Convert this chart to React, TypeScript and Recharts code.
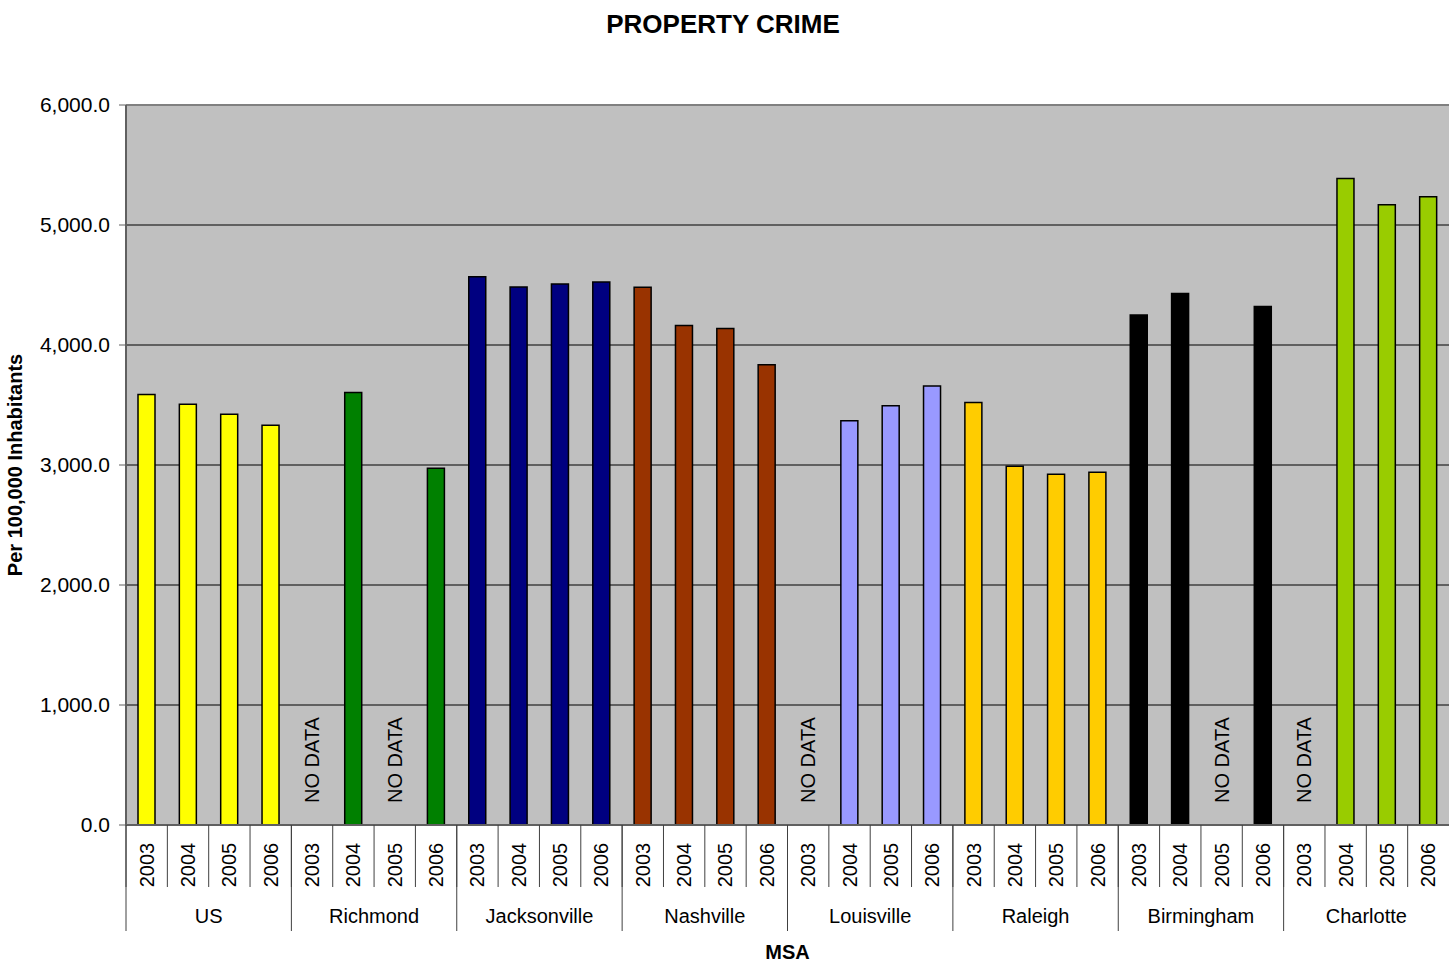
import React from "react";
import { BarChart, Bar, XAxis, YAxis, CartesianGrid, Cell, Label, ReferenceLine } from "recharts";

const years = ["2003", "2004", "2005", "2006"];
const msas = ["US", "Richmond", "Jacksonville", "Nashville", "Louisville", "Raleigh", "Birmingham", "Charlotte"];
const msaColors = ["#FFFF00", "#008000", "#000080", "#993300", "#9999FF", "#FFCC00", "#000000", "#99CC00"];

// null = no data reported for that year
const usValues = [3587, 3506, 3423, 3332];
const richmondValues = [null, 3604, null, 2972];
const jacksonvilleValues = [4568, 4484, 4509, 4524];
const nashvilleValues = [4482, 4163, 4138, 3836];
const louisvilleValues = [null, 3368, 3493, 3659];
const raleighValues = [3520, 2989, 2922, 2939];
const birminghamValues = [4249, 4429, null, 4321];
const charlotteValues = [null, 5388, 5169, 5236];

const valuesByMsa = [
  usValues,
  richmondValues,
  jacksonvilleValues,
  nashvilleValues,
  louisvilleValues,
  raleighValues,
  birminghamValues,
  charlotteValues,
];

const yTicks = [0, 1000, 2000, 3000, 4000, 5000, 6000];

const rows = msas.flatMap((msa, i) =>
  years.map((year, j) => ({
    key: `${msa}-${year}`,
    msa,
    year,
    value: valuesByMsa[i][j],
    color: msaColors[i],
  }))
);

const FONT = '"Liberation Sans", Arial, sans-serif';
const CHART_W = 1449;
const CHART_H = 964;
const Y_AXIS_W = 126;
const PLOT_W = CHART_W - Y_AXIS_W;
const YEAR_BAND = PLOT_W / rows.length;
const MSA_BAND = PLOT_W / msas.length;
const YEAR_AXIS_H = 62;
const DIVIDER = "#404040";

// eslint-disable-next-line @typescript-eslint/no-explicit-any
const YearTick = ({ x, y, payload }: any) => {
  const row = rows[payload.index];
  const left = x - YEAR_BAND / 2;
  return (
    <g>
      <line x1={left} y1={y} x2={left} y2={y + YEAR_AXIS_H} stroke={DIVIDER} strokeWidth={1} />
      <text
        x={x}
        y={y + 40}
        transform={`rotate(-90 ${x} ${y + 40})`}
        textAnchor="middle"
        dominantBaseline="central"
        fontFamily={FONT}
        fontSize={20}
        fill="#000"
      >
        {row.year}
      </text>
      {row.value === null && (
        <text
          x={x}
          y={y - 65}
          transform={`rotate(-90 ${x} ${y - 65})`}
          textAnchor="middle"
          dominantBaseline="central"
          fontFamily={FONT}
          fontSize={20}
          fill="#000"
        >
          NO DATA
        </text>
      )}
    </g>
  );
};

// eslint-disable-next-line @typescript-eslint/no-explicit-any
const MsaTick = ({ x, y, payload }: any) => {
  const left = x - MSA_BAND / 2;
  return (
    <g>
      <line x1={left} y1={y - YEAR_AXIS_H} x2={left} y2={y + 44} stroke={DIVIDER} strokeWidth={1} />
      <text x={x} y={y + 36} textAnchor="middle" fontFamily={FONT} fontSize={20} fill="#000">
        {payload.value}
      </text>
    </g>
  );
};

const fmt = (v: number) =>
  v.toLocaleString("en-US", { minimumFractionDigits: 1, maximumFractionDigits: 1 });

export default function App() {
  return (
    <div style={{ position: "absolute", left: 0, top: 0, width: CHART_W, height: CHART_H, background: "#fff" }}>
      <div
        style={{
          position: "absolute",
          left: 0,
          top: 8,
          width: 1446,
          textAlign: "center",
          fontFamily: FONT,
          fontWeight: "bold",
          fontSize: 26,
          lineHeight: "32px",
        }}
      >
        PROPERTY CRIME
      </div>
      <BarChart
        width={CHART_W}
        height={CHART_H}
        data={rows}
        margin={{ top: 105, right: 0, bottom: 0, left: 0 }}
        barCategoryGap={0}
      >
        <CartesianGrid vertical={false} stroke="#000" strokeOpacity={1} fill="#C0C0C0" fillOpacity={1} />
        <ReferenceLine y={6000} stroke="#808080" strokeWidth={2} />
        <YAxis
          width={Y_AXIS_W}
          domain={[0, 6000]}
          ticks={yTicks}
          interval={0}
          tickFormatter={fmt}
          tickSize={7}
          tickMargin={9}
          axisLine={{ stroke: "#606060", strokeWidth: 2 }}
          tickLine={{ stroke: "#606060", strokeWidth: 1 }}
          tick={{ fill: "#000", fontSize: 21, fontFamily: FONT }}
        >
          <Label
            content={({ viewBox }: any) => {
              const cx = 15;
              const cy = viewBox.y + viewBox.height / 2;
              return (
                <text
                  x={cx}
                  y={cy}
                  transform={`rotate(-90 ${cx} ${cy})`}
                  textAnchor="middle"
                  dominantBaseline="central"
                  fontFamily={FONT}
                  fontWeight="bold"
                  fontSize={20}
                  fill="#000"
                >
                  Per 100,000 Inhabitants
                </text>
              );
            }}
          />
        </YAxis>
        <XAxis
          dataKey="key"
          height={YEAR_AXIS_H}
          interval={0}
          tickSize={0}
          tickMargin={0}
          tickLine={false}
          axisLine={{ stroke: "#606060", strokeWidth: 2 }}
          tick={<YearTick />}
        />
        <XAxis
          xAxisId="msa"
          dataKey="msa"
          allowDuplicatedCategory={false}
          height={CHART_H - 105 - 720 - YEAR_AXIS_H}
          interval={0}
          tickSize={0}
          tickMargin={0}
          tickLine={false}
          axisLine={false}
          tick={<MsaTick />}
        >
          <Label
            content={({ viewBox }: any) => (
              <text
                x={viewBox.x + viewBox.width / 2}
                y={viewBox.y + viewBox.height - 5}
                textAnchor="middle"
                fontFamily={FONT}
                fontWeight="bold"
                fontSize={20}
                fill="#000"
              >
                MSA
              </text>
            )}
          />
        </XAxis>
        <Bar dataKey="value" barSize={17} stroke="#000" strokeWidth={1.5} isAnimationActive={false}>
          {rows.map((r) => (
            <Cell key={r.key} fill={r.color} />
          ))}
        </Bar>
      </BarChart>
    </div>
  );
}
